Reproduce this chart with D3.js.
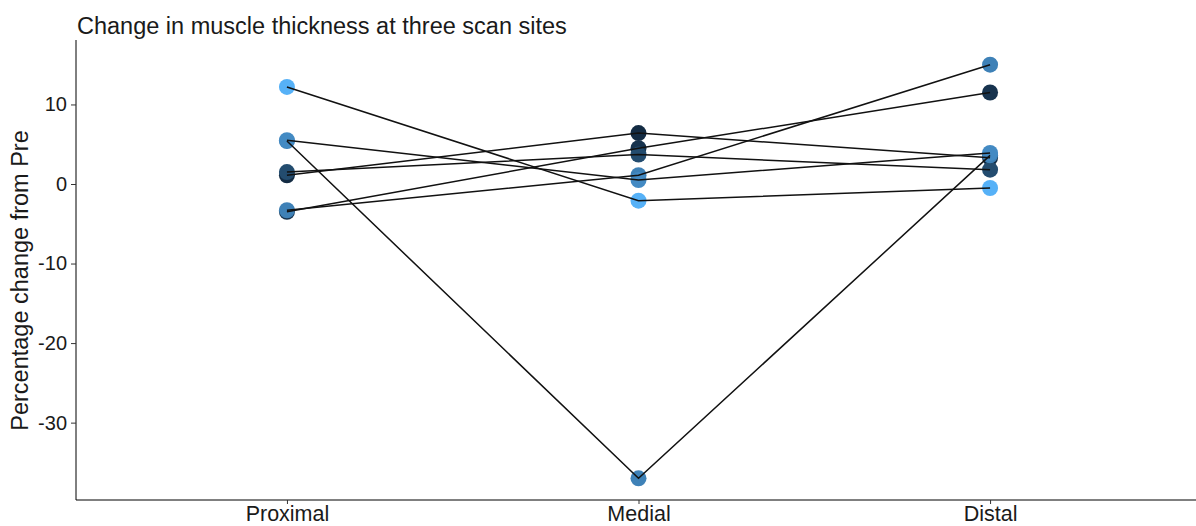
<!DOCTYPE html>
<html>
<head>
<meta charset="utf-8">
<script src="https://cdn.jsdelivr.net/npm/d3@7"></script>
<style>
  body { margin: 0; background: #fff; }
  svg text { font-family: "Liberation Sans", Arial, sans-serif; }
</style>
</head>
<body>
<svg id="chart"></svg>
<script>
// scan sites along the x axis
const sites = ["Proximal", "Medial", "Distal"];

// one row per participant: % change at Proximal, Medial, Distal
const subjectA = [12.2, -2.1, -0.5];
const subjectB = [5.4, -37.0, 3.6];
const subjectC = [5.5, 0.5, 3.9];
const subjectD = [1.5, 3.7, 1.8];
const subjectE = [1.1, 6.4, 3.3];
const subjectF = [-3.5, 4.5, 11.5];
const subjectG = [-3.3, 1.1, 15.0];

// colour variable per participant (continuous, mapped to a blue gradient)
const subjectIds = [7, 5, 5.4, 2.6, 1, 1.4, 5];

const yTicks = [-30, -20, -10, 0, 10];

// drawing order (later ones sit on top)
const subjects = [subjectE, subjectF, subjectD, subjectB, subjectG, subjectC, subjectA];
const ids = [subjectIds[4], subjectIds[5], subjectIds[3], subjectIds[1], subjectIds[6], subjectIds[2], subjectIds[0]];

const width = 1196, height = 526;
const plotLeft = 76, plotTop = 44, plotBottom = 499;

const svg = d3.select("#chart")
  .attr("width", width)
  .attr("height", height);

const x = d3.scalePoint()
  .domain(sites)
  .range([plotLeft, 1201])
  .padding(0.6);

const y = d3.scaleLinear()
  .domain([-39.6, 17.6])
  .range([plotBottom, plotTop]);

const colour = d3.scaleLinear()
  .domain(d3.extent(subjectIds))
  .range(["#132B43", "#56B1F7"])
  .interpolate(d3.interpolateLab);

const rows = subjects.map((vals, i) => ({
  id: ids[i],
  pts: vals.map((v, j) => ({ site: sites[j], value: v }))
}));

// points first, lines on top
const pts = rows.flatMap(r => r.pts.map(p => Object.assign({ id: r.id }, p)));
svg.append("g").selectAll("circle")
  .data(pts).enter()
  .append("circle")
  .attr("cx", d => x(d.site))
  .attr("cy", d => y(d.value))
  .attr("r", 8)
  .attr("fill", d => colour(d.id));

const line = d3.line()
  .x(d => x(d.site))
  .y(d => y(d.value));

svg.append("g").selectAll("path")
  .data(rows).enter()
  .append("path")
  .attr("d", d => line(d.pts))
  .attr("fill", "none")
  .attr("stroke", "#111")
  .attr("stroke-width", 1.5);

// axes
const fmt = d => String(d); // plain hyphen for negatives
const yAxis = svg.append("g")
  .attr("transform", `translate(${plotLeft},0)`)
  .call(d3.axisLeft(y).tickValues(yTicks).tickFormat(fmt).tickSize(5).tickPadding(4));
yAxis.select(".domain").attr("d", `M-0,${plotTop - 4}V${plotBottom + 1}`);
yAxis.selectAll("text").attr("font-size", 20).attr("fill", "#1a1a1a");
yAxis.selectAll("line").attr("stroke", "#333");

const xAxis = svg.append("g")
  .attr("transform", `translate(0,${plotBottom + 1})`)
  .call(d3.axisBottom(x).tickSize(4).tickPadding(2));
xAxis.select(".domain").attr("d", `M${plotLeft},0H1201`);
xAxis.selectAll("text").attr("font-size", 21.5).attr("fill", "#1a1a1a");
xAxis.selectAll("line").attr("stroke", "#333");

svg.append("text")
  .attr("x", plotLeft + 1)
  .attr("y", 34)
  .attr("font-size", 23.5)
  .attr("fill", "#1a1a1a")
  .text("Change in muscle thickness at three scan sites");

svg.append("text")
  .attr("transform", `translate(28,${(plotTop + plotBottom) / 2 + 9}) rotate(-90)`)
  .attr("text-anchor", "middle")
  .attr("font-size", 23.5)
  .attr("fill", "#1a1a1a")
  .text("Percentage change from Pre");
</script>
</body>
</html>
